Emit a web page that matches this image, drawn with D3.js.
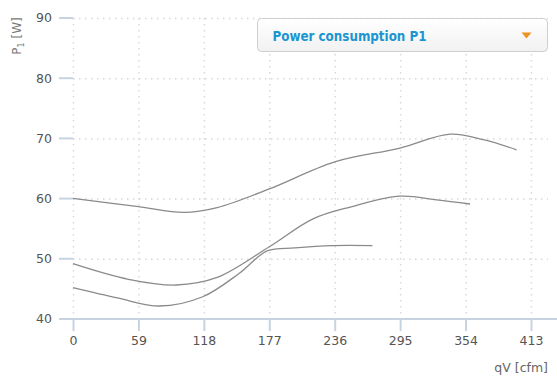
<!DOCTYPE html>
<html>
<head>
<meta charset="utf-8">
<script src="https://cdn.jsdelivr.net/npm/d3@7"></script>
<style>
  body { margin: 0; background: #fff; }
  svg { font-family: "DejaVu Sans", sans-serif; }
  .grid line { stroke: #d8d8d8; stroke-width: 1.5; stroke-dasharray: 1.5,4.5; }
  .curve { fill: none; stroke: #8a8a8a; stroke-width: 1.3; }
  .tick-label { fill: #555; font-size: 12.5px; }
</style>
</head>
<body>
<div id="plot-container"></div>
<script>
// chart data
var xTicks = [0, 59, 118, 177, 236, 295, 354, 413];
var yTicks = [40, 50, 60, 70, 80, 90];
var legendTitle = 'Power consumption P1';
var curveTop = [[0, 60.05], [59, 58.65], [100, 57.7], [130, 58.5], [177, 61.6], [236, 66.1], [295, 68.4], [340, 70.7], [370, 69.8], [400, 68.1]];
var curveMid = [[0, 49.2], [50, 46.6], [93, 45.65], [130, 46.9], [177, 52.0], [216, 56.6], [250, 58.6], [295, 60.4], [328, 59.8], [358, 59.1]];
var curveLow = [[0, 45.2], [40, 43.5], [78, 42.16], [117, 43.7], [150, 47.6], [175, 51.3], [200, 51.8], [234, 52.2], [270, 52.2]];

var totalWidth = 557, totalHeight = 385;
var margins = {top: 18, left: 73, bottom: 66, right: 9};
var width = totalWidth - margins.left - margins.right;
var height = totalHeight - margins.top - margins.bottom;

var xScale = d3.scaleLinear().domain([0, 413]).range([0, 458]);
var yScale = d3.scaleLinear().domain([40, 90]).range([height, 0]);
var line = d3.line().curve(d3.curveCatmullRom.alpha(0.5)).x(function(d) { return xScale(d[0]); }).y(function(d) { return yScale(d[1]); });

var svg = d3.select('#plot-container').append('svg').attr('width', totalWidth).attr('height', totalHeight);
var plot = svg.append('g').attr('transform', 'translate(' + [margins.left, margins.top] + ')');

// dotted grid
var grid = plot.append('g').attr('class', 'grid');
grid.selectAll('line.v').data(xTicks).enter().append('line').attr('class', 'v')
  .attr('x1', function(d) { return xScale(d) + 0.5; }).attr('x2', function(d) { return xScale(d) + 0.5; })
  .attr('y1', 0).attr('y2', height);
grid.selectAll('line.h').data(yTicks.slice(1)).enter().append('line').attr('class', 'h')
  .attr('x1', 0).attr('x2', width)
  .attr('y1', function(d) { return yScale(d) + 0.5; }).attr('y2', function(d) { return yScale(d) + 0.5; });

// y axis: short tick stubs and labels
var yAxis = plot.append('g');
yAxis.selectAll('line').data(yTicks).enter().append('line')
  .attr('x1', -14).attr('x2', 0)
  .attr('y1', function(d) { return yScale(d); }).attr('y2', function(d) { return yScale(d); })
  .attr('stroke', '#c6d4e2').attr('stroke-width', 2);
yAxis.selectAll('text').data(yTicks).enter().append('text').attr('class', 'tick-label')
  .attr('x', -21).attr('y', function(d) { return yScale(d); }).attr('dy', '0.35em')
  .attr('text-anchor', 'end').text(function(d) { return d; });

// x axis
var xAxis = plot.append('g').attr('transform', 'translate(0,' + height + ')');
xAxis.append('line').attr('x1', -14).attr('x2', totalWidth - margins.left).attr('y1', 0).attr('y2', 0)
  .attr('stroke', '#c6d4e2').attr('stroke-width', 2);
xAxis.selectAll('line.tick').data(xTicks).enter().append('line').attr('class', 'tick')
  .attr('x1', function(d) { return xScale(d) + 0.5; }).attr('x2', function(d) { return xScale(d) + 0.5; })
  .attr('y1', 0).attr('y2', 12).attr('stroke', '#c6d4e2').attr('stroke-width', 2);
xAxis.selectAll('text').data(xTicks).enter().append('text').attr('class', 'tick-label')
  .attr('x', function(d) { return xScale(d) + 0.5; }).attr('y', 26)
  .attr('text-anchor', 'middle').text(function(d) { return d; });

// axis titles
svg.append('text').attr('x', 548).attr('y', 372).attr('text-anchor', 'end')
  .attr('fill', '#666').style('font-size', '12.5px').text('qV [cfm]');
var yTitle = svg.append('text').attr('transform', 'translate(21,36) rotate(-90)')
  .attr('text-anchor', 'middle').attr('fill', '#777').style('font-size', '12px');
yTitle.append('tspan').text('P');
yTitle.append('tspan').attr('dy', 3).style('font-size', '8px').text('1');
yTitle.append('tspan').attr('dy', -3).text(' [W]');

// curves
plot.selectAll('path.curve').data([curveTop, curveMid, curveLow]).enter().append('path').attr('class', 'curve')
  .attr('d', function(d) { return line(d); });

// legend dropdown
var defs = svg.append('defs');
var grad = defs.append('linearGradient').attr('id', 'legendBg').attr('x1', 0).attr('y1', 0).attr('x2', 0).attr('y2', 1);
grad.append('stop').attr('offset', '0%').attr('stop-color', '#ffffff');
grad.append('stop').attr('offset', '100%').attr('stop-color', '#f1f1f1');
var legend = svg.append('g').attr('transform', 'translate(257.5,18.5)');
legend.append('rect').attr('width', 290).attr('height', 33).attr('rx', 4)
  .attr('fill', 'url(#legendBg)').attr('stroke', '#cfcfcf');
legend.append('text').attr('x', 15).attr('y', 22).attr('fill', '#1b95d0')
  .style('font-size', '14px').style('font-weight', 'bold').attr('textLength', 154).attr('lengthAdjust', 'spacingAndGlyphs')
  .text(legendTitle);
legend.append('path').attr('d', 'M264,14 L274,14 L269,20 Z').attr('fill', '#f0931e');
</script>
</body>
</html>
